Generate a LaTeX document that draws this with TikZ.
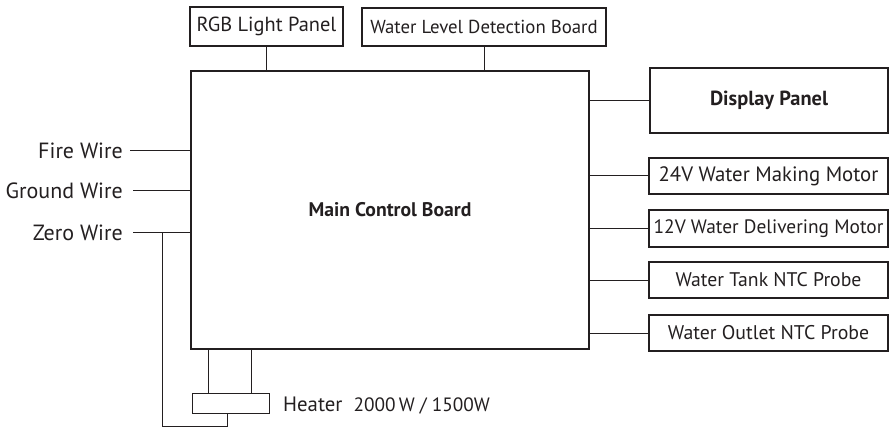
\documentclass[tikz,border=0pt]{standalone}
\usepackage{fontspec}
\setmainfont{PT Sans}
\definecolor{ink}{HTML}{231F20}
\newcommand{\fsz}[1]{\fontsize{#1}{#1}\selectfont}
\begin{document}
\begin{tikzpicture}[x=1pt,y=-1pt,
  box/.style={draw=ink,line width=1.6pt,rectangle,inner sep=0pt,text=ink,font=\fsz{20}},
  wire/.style={draw=ink,line width=1pt},
  lbl/.style={text=ink,inner sep=0pt,font=\fsz{22}}]
\useasboundingbox (0,0) rectangle (890,427);
% main board
\node[box,line width=2pt,minimum width=398pt,minimum height=278pt,font=\bfseries\fsz{19.7}] (main) at (390,210) {Main Control Board};
% top boxes
\node[box,minimum width=153pt,minimum height=39pt,font=\fsz{20.4}] (rgb) at (266.5,26.5) {RGB Light Panel};
\node[box,minimum width=244pt,minimum height=38pt,font=\fsz{18.8}] (wl) at (484,27) {Water Level Detection Board};
% right boxes
\node[box,minimum width=238pt,minimum height=65pt,font=\bfseries\fsz{20.4}] (disp) at (769,100.5) {Display Panel};
\node[box,minimum width=239pt,minimum height=36pt,font=\fsz{20.8}] (m24) at (768.5,176) {24V Water Making Motor};
\node[box,minimum width=239pt,minimum height=37pt,font=\fsz{19.4}] (m12) at (768.5,228.5) {12V Water Delivering Motor};
\node[box,minimum width=239pt,minimum height=36pt,font=\fsz{19.7}] (tank) at (768.5,280) {Water Tank NTC Probe};
\node[box,minimum width=239pt,minimum height=36pt,font=\fsz{19.8}] (outlet) at (768.5,333) {Water Outlet NTC Probe};
% heater
\node[box,line width=1pt,minimum width=77pt,minimum height=20pt] (heater) at (230.5,403) {};
\node[lbl,anchor=base west,font=\fsz{20.8}] (htext) at (283,411) {Heater\hspace{11pt}\fsz{19.3}2000\,W / 1500W};
% left labels
\node[lbl,anchor=east] (fire) at (123,151) {Fire Wire};
\node[lbl,anchor=east] (ground) at (123,191) {Ground Wire};
\node[lbl,anchor=east] (zero) at (123,233) {Zero Wire};
% connectors top
\draw[wire] (rgb.south) -- (rgb.south |- main.north);
\draw[wire] (wl.south) -- (wl.south |- main.north);
% connectors right
\foreach \n in {disp,m24,m12,tank,outlet}{
  \draw[wire] (\n.west) -- (\n.west -| main.east);
}
% left wires
\draw[wire] ([xshift=7pt]fire.east) -- (fire.east -| main.west);
\draw[wire] ([xshift=10pt]ground.east) -- (ground.east -| main.west);
\draw[wire] ([xshift=10pt]zero.east) -- (zero.east -| main.west);
\coordinate (zj) at (162,233);
\coordinate (zb) at (162,426);
\draw[wire] (zj) -- (zb) -| ([xshift=-3.5pt]heater.south);
% heater to main
\draw[wire] ([xshift=17pt]heater.north west) -- ([xshift=17pt]heater.north west |- main.south);
\draw[wire] ([xshift=60pt]heater.north west) -- ([xshift=60pt]heater.north west |- main.south);
\end{tikzpicture}
\end{document}
